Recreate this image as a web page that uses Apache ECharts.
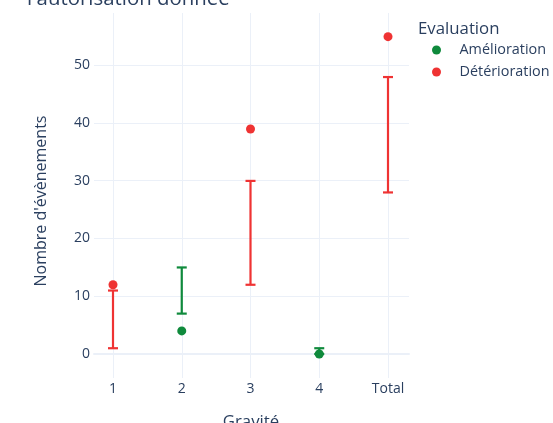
<!DOCTYPE html>
<html>
<head>
<meta charset="utf-8">
<script src="https://cdn.jsdelivr.net/npm/echarts@6/dist/echarts.min.js"></script>
<style>
html,body{margin:0;padding:0;background:#fff;}
#chart{width:553px;height:423px;}
</style>
</head>
<body>
<div id="chart"></div>
<script>
// ---- data ----
const categories = ['1', '2', '3', '4', 'Total'];
const yTicks = [0, 10, 20, 30, 40, 50];
const seriesNames = ['Amélioration', 'Détérioration'];
// observed values
const ameliorationValues = [null, 4, null, 0, null];
const deteriorationValues = [12, null, 39, null, 55];
// expected intervals (error bars)
const ameliorationLow = [null, 7, null, 0, null];
const ameliorationHigh = [null, 15, null, 1, null];
const deteriorationLow = [1, null, 12, null, 28];
const deteriorationHigh = [11, null, 30, null, 48];

const GREEN = '#0f8a3c';
const RED = '#ef3333';
const TXT = '#2a3f5f';
const GRID = '#EBF0F8';
const FONT = '"Open Sans", sans-serif';

function points(vals) {
  const out = [];
  vals.forEach((v, i) => { if (v !== null) out.push([i, v]); });
  return out;
}
function ranges(lo, hi) {
  const out = [];
  lo.forEach((v, i) => { if (v !== null && hi[i] !== null) out.push([i, v, hi[i]]); });
  return out;
}
function errRender(params, api) {
  const x = api.value(0), lo = api.value(1), hi = api.value(2);
  const pLo = api.coord([x, lo]), pHi = api.coord([x, hi]);
  const hw = 5;
  const style = { stroke: api.visual('color'), lineWidth: 2.2, fill: null };
  return {
    type: 'group',
    children: [
      { type: 'line', shape: { x1: pLo[0], y1: pLo[1], x2: pHi[0], y2: pHi[1] }, style: style },
      { type: 'line', shape: { x1: pLo[0] - hw, y1: pLo[1], x2: pLo[0] + hw, y2: pLo[1] }, style: style },
      { type: 'line', shape: { x1: pHi[0] - hw, y1: pHi[1], x2: pHi[0] + hw, y2: pHi[1] }, style: style }
    ]
  };
}

const chart = echarts.init(document.getElementById('chart'), null, { renderer: 'canvas' });
chart.setOption({
  backgroundColor: '#ffffff',
  animation: false,
  textStyle: { fontFamily: FONT },
  grid: [
    // background grid: horizontal gridlines 0..50
    { left: 94, width: 315, top: 65, height: 289, containLabel: false },
    // data grid
    { left: 113, width: 275, top: 13, height: 365, containLabel: false }
  ],
  xAxis: [
    {
      gridIndex: 0, type: 'value', min: 0, max: 1,
      axisLabel: { show: false }, axisTick: { show: false }, splitLine: { show: false },
      axisLine: { show: true, lineStyle: { color: GRID, width: 2 } }
    },
    {
      gridIndex: 1, type: 'value', min: 0, max: categories.length - 1, interval: 1,
      axisLine: { show: false }, axisTick: { show: false },
      splitLine: { show: true, lineStyle: { color: GRID, width: 1 } },
      axisLabel: {
        color: TXT, fontSize: 14, fontFamily: FONT, margin: 4,
        formatter: function (v) { return categories[v] !== undefined ? categories[v] : ''; }
      }
    }
  ],
  yAxis: [
    {
      gridIndex: 0, type: 'value', min: yTicks[0], max: yTicks[yTicks.length - 1], interval: 10,
      axisLine: { show: false }, axisTick: { show: false },
      splitLine: { show: true, lineStyle: { color: GRID, width: 1 } },
      axisLabel: { color: TXT, fontSize: 14, fontFamily: FONT, margin: 4 }
    },
    {
      gridIndex: 1, type: 'value', min: -4.16, max: 59.1,
      show: false
    }
  ],
  legend: {
    orient: 'vertical', left: 427, top: 38,
    itemWidth: 36, itemHeight: 9, itemGap: 8,
    icon: 'circle',
    data: seriesNames,
    textStyle: { color: TXT, fontSize: 14.4, fontFamily: FONT }
  },
  graphic: [
    { type: 'text', left: 27, top: -11, style: { text: "l'autorisation donnée", font: '20.4px "Open Sans"', fill: TXT } },
    { type: 'text', x: 418, y: 29, style: { text: 'Evaluation', font: '16.8px "Open Sans"', fill: TXT, verticalAlign: 'middle', align: 'left' } },
    { type: 'text', x: 41, y: 201, rotation: Math.PI / 2, style: { text: "Nombre d'évènements", font: '16px "Open Sans"', fill: TXT, align: 'center', verticalAlign: 'middle' } },
    { type: 'text', x: 251, y: 422, style: { text: 'Gravité', font: '16.8px "Open Sans"', fill: TXT, align: 'center', verticalAlign: 'middle' } }
  ],
  series: [
    {
      name: 'errA', type: 'custom', xAxisIndex: 1, yAxisIndex: 1,
      itemStyle: { color: GREEN }, renderItem: errRender,
      encode: { x: 0, y: [1, 2] }, data: ranges(ameliorationLow, ameliorationHigh), z: 2
    },
    {
      name: 'errD', type: 'custom', xAxisIndex: 1, yAxisIndex: 1,
      itemStyle: { color: RED }, renderItem: errRender,
      encode: { x: 0, y: [1, 2] }, data: ranges(deteriorationLow, deteriorationHigh), z: 2
    },
    {
      name: seriesNames[0], type: 'scatter', xAxisIndex: 1, yAxisIndex: 1,
      symbol: 'circle', symbolSize: 9, clip: false,
      itemStyle: { color: GREEN, opacity: 1 }, data: points(ameliorationValues), z: 3
    },
    {
      name: seriesNames[1], type: 'scatter', xAxisIndex: 1, yAxisIndex: 1,
      symbol: 'circle', symbolSize: 9, clip: false,
      itemStyle: { color: RED, opacity: 1 }, data: points(deteriorationValues), z: 3
    }
  ]
});
</script>
</body>
</html>
